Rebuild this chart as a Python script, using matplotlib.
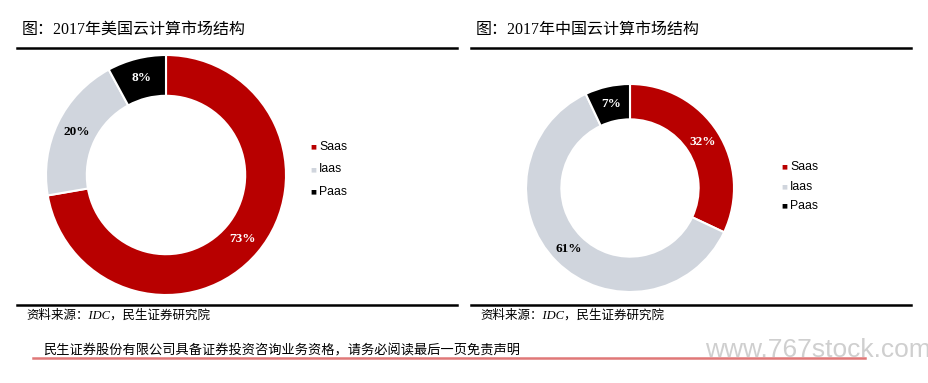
import numpy as np
import matplotlib
matplotlib.use("Agg")
import matplotlib.pyplot as plt
from matplotlib.lines import Line2D

categories = ["Saas", "Iaas", "Paas"]
us_values = [73, 20, 8]
cn_values = [32, 61, 7]
us_labels = ["73%", "20%", "8%"]
cn_labels = ["32%", "61%", "7%"]
title_us = "图：2017年美国云计算市场结构"
title_cn = "图：2017年中国云计算市场结构"
source_text = "资料来源：IDC，民生证券研究院"
footer_text = "民生证券股份有限公司具备证券投资咨询业务资格，请务必阅读最后一页免责声明"
watermark = "www.767stock.com"

colors = ["#B80000", "#D0D5DD", "#000000"]
label_colors = ["white", "black", "white"]

W, H = 929, 383
fig = plt.figure(figsize=(W / 100, H / 100), dpi=100)
fig.patch.set_facecolor("white")

SERIF = ["Liberation Serif", "Noto Sans CJK SC"]
SANS = ["Liberation Sans", "DejaVu Sans"]


def fx(x):
    return x / W


def fy(y):
    return 1 - y / H


def hline(x0, x1, y, color="black", lw=1.8):
    fig.add_artist(Line2D([fx(x0), fx(x1)], [fy(y), fy(y)], color=color, lw=lw,
                          transform=fig.transFigure))


def donut(cx, cy, r, values, labels, leg_x, leg_y0, leg_dy):
    ax = fig.add_axes([fx(cx - r), fy(cy + r), 2 * r / W, 2 * r / H])
    wedges, _ = ax.pie(values, colors=colors, startangle=90, counterclock=False,
                       radius=1.0, wedgeprops=dict(width=0.34, edgecolor="white", linewidth=1.5))
    ax.set_xlim(-1, 1)
    ax.set_ylim(-1, 1)
    ax.set_aspect("equal")
    ax.axis("off")
    for w, lab, lc in zip(wedges, labels, label_colors):
        ang = np.deg2rad((w.theta1 + w.theta2) / 2)
        rr = 0.83
        ax.text(rr * np.cos(ang), rr * np.sin(ang), lab, ha="center", va="center",
                fontsize=9.5, fontweight="bold", color=lc, family=["Liberation Serif"])
    for i, (cat, col) in enumerate(zip(categories, colors)):
        y = leg_y0 + i * leg_dy
        fig.text(fx(leg_x), fy(y), "■", color=col, fontsize=4.5, ha="center", va="center",
                 family=["DejaVu Sans"])
        fig.text(fx(leg_x + 6), fy(y), cat, color="black", fontsize=8.8, ha="left",
                 va="center", family=SANS)


# Left panel
fig.text(fx(22), fy(30), title_us, fontsize=11.5, family=SERIF, ha="left", va="center")
hline(17, 457, 48)
hline(17, 457, 305)
fig.text(fx(26), fy(315), source_text, fontsize=9, family=SERIF, style="italic",
         ha="left", va="center")
donut(166, 175, 120, us_values, us_labels, 313, 147, 22.5)

# Right panel
fig.text(fx(476), fy(30), title_cn, fontsize=11.5, family=SERIF, ha="left", va="center")
hline(471, 911, 48)
hline(471, 911, 305)
fig.text(fx(480), fy(315), source_text, fontsize=9, family=SERIF, style="italic",
         ha="left", va="center")
donut(630, 188, 104, cn_values, cn_labels, 784, 167, 19.5)

# Footer
fig.text(fx(43), fy(351), footer_text, fontsize=9.5, family=SERIF, ha="left", va="center")
hline(33, 865, 358, color="#E07878", lw=1.8)
fig.text(fx(705), fy(350), watermark, fontsize=19, family=SANS, color="#CFCFCF",
         ha="left", va="center")

fig.savefig("out.png", dpi=100, facecolor="white")
